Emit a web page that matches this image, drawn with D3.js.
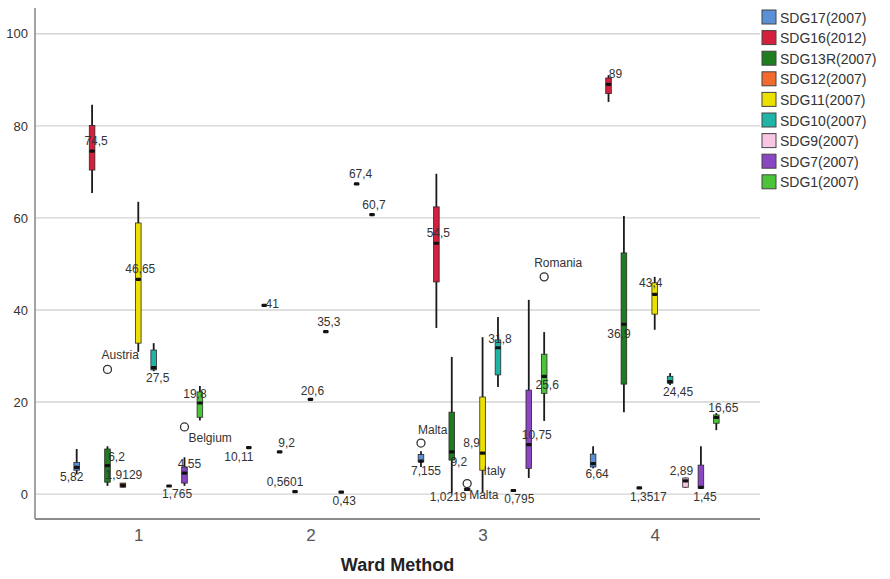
<!DOCTYPE html>
<html><head><meta charset="utf-8">
<script src="https://cdn.jsdelivr.net/npm/d3@7/dist/d3.min.js"></script>
<style>
html,body{margin:0;padding:0;background:#fff;}
svg{display:block;font-family:"Liberation Sans",Arial,sans-serif;}
</style></head>
<body>
<svg id="chart" width="890" height="579"></svg>
<script>
// ---------------- DATA ----------------
const clusters = [1, 2, 3, 4];
const seriesNames = ["SDG17(2007)","SDG16(2012)","SDG13R(2007)","SDG12(2007)","SDG11(2007)","SDG10(2007)","SDG9(2007)","SDG7(2007)","SDG1(2007)"];
const yTicks = [0, 20, 40, 60, 80, 100];
const xTitle = "Ward Method";

// per series, per cluster: [whiskerLow, Q1, median, Q3, whiskerHigh] (single value = one-member cluster)
const sdg17  = [[4.3,5.2,5.82,6.9,9.8],   [10.11],  [5.9,7.0,7.155,8.6,9.3],   [5.6,5.9,6.64,8.7,10.4]];
const sdg16  = [[65.4,70.4,74.5,80.1,84.6],[41],    [36.1,46.1,54.5,62.4,69.6],[85.2,87.0,89,90.4,91.0]];
const sdg13r = [[1.8,2.6,6.2,9.8,10.4],   [9.2],    [0.2,7.4,9.2,17.8,29.8],   [17.8,23.9,36.9,52.4,60.4]];
const sdg12  = [[1.5,1.5,1.9129,2.4,2.4], [0.5601], [0.8,0.8,1.0219,1.3,1.3],  [1.3517]];
const sdg11  = [[30.9,32.8,46.65,58.9,63.5],[20.6],  [0.4,5.2,8.9,21.1,34.1],   [35.7,39.1,43.4,45.9,47.2]];
const sdg10  = [[26.7,27.0,27.5,31.3,32.8],[35.3],   [23.3,25.9,31.8,33.5,38.5],[23.7,24.1,24.45,25.6,26.3]];
const sdg9   = [[1.765],                   [0.43],   [0.795],                   [1.4,1.5,2.89,3.5,3.6]];
const sdg7   = [[1.8,2.4,4.55,5.9,8.0],    [67.4],   [3.5,5.6,10.75,22.6,42.2], [1.1,1.3,1.45,6.3,10.4]];
const sdg1   = [[16.0,16.7,19.8,22.2,23.5],[60.7],   [15.9,21.9,25.6,30.4,35.2],[13.9,15.4,16.65,17.2,17.6]];
const seriesStats = [sdg17, sdg16, sdg13r, sdg12, sdg11, sdg10, sdg9, sdg7, sdg1];

const outliers = [
  {cluster:1, series:"SDG13R(2007)", value:27.1, name:"Austria"},
  {cluster:1, series:"SDG7(2007)",   value:14.6, name:"Belgium"},
  {cluster:3, series:"SDG17(2007)",  value:11.1, name:"Malta"},
  {cluster:3, series:"SDG12(2007)",  value:2.3,  name:"Malta"},
  {cluster:3, series:"SDG1(2007)",   value:47.2, name:"Romania"}
];
const textOnlyLabels = [
  {cluster:3, series:"SDG11(2007)", value:5.0, name:"Italy"}
];

// ---------------- STYLE / LAYOUT ----------------
const palette = ["#5b8fd6","#d4203c","#1f7d1f","#f26a2c","#ece000","#20b4a7","#f6c6e2","#8a47c2","#4cc43a"];
// median-label nudges [dx, dy] per series per cluster
const medianNudge = [
  [[-5,10],[-10,9],[5,10],[4,10]],
  [[4,-10],[8,-1],[2,-10],[7,-10]],
  [[9,-9],[7,-9],[7,10],[-5,10]],
  [[1,-10],[-10,-10],[-19,8],[9,9]],
  [[2,-10],[2,-8],[-11,-10],[-4,-11]],
  [[4,10],[3,-10],[2,-9],[8,10]],
  [[8,8],[3,9],[6,9],[-4,-10]],
  [[5,-9],[4,-10],[8,-10],[4,10]],
  [[-5,-9],[2,-10],[3,9],[7,-9]]
];
const outlierNudge = [[-6,-14],[4,11],[-3,-13],[2,11],[-10,-14]];
const textOnlyNudge = [[1,0]];

const plot = {left:35, right:760, top:8, bottom:519};
const svg = d3.select("#chart");

const y = d3.scaleLinear().domain([-5.4, 105.6]).range([plot.bottom, plot.top]);
const xc = d3.scalePoint().domain(clusters).range([plot.left, 758]).padding(0.6);
const xs = d3.scalePoint().domain(seriesNames).range([-61.6, 61.6]);
const color = d3.scaleOrdinal().domain(seriesNames).range(palette);
const fmt = v => String(v).replace(".", ",");
const X = (c, s) => xc(c) + xs(s);

// gridlines
svg.append("g").selectAll("line").data(yTicks).join("line")
  .attr("x1", plot.left).attr("x2", plot.right)
  .attr("y1", d => y(d)).attr("y2", d => y(d))
  .attr("stroke", "#d3d3d3").attr("stroke-width", 1.4);

// y axis
const yAxis = svg.append("g").attr("transform", `translate(${plot.left},0)`)
  .call(d3.axisLeft(y).tickValues(yTicks).tickSize(0).tickPadding(7));
yAxis.select(".domain").remove();
yAxis.selectAll("text").attr("font-size", 13).attr("fill", "#333")
  .attr("font-family", "Liberation Sans, Arial, sans-serif");
svg.append("line").attr("x1", plot.left).attr("x2", plot.left)
  .attr("y1", plot.top).attr("y2", plot.bottom).attr("stroke", "#8c8c8c").attr("stroke-width", 1.6);

// x axis
const xAxis = svg.append("g").attr("transform", `translate(0,${plot.bottom})`)
  .call(d3.axisBottom(xc).tickSize(0).tickPadding(10));
xAxis.select(".domain").remove();
xAxis.selectAll("text").attr("font-size", 17).attr("fill", "#555")
  .attr("font-family", "Liberation Sans, Arial, sans-serif");
svg.append("line").attr("x1", plot.left).attr("x2", plot.right)
  .attr("y1", plot.bottom).attr("y2", plot.bottom).attr("stroke", "#8c8c8c").attr("stroke-width", 1.8);
svg.append("text").attr("x", (plot.left + plot.right) / 2).attr("y", 571)
  .attr("text-anchor", "middle").attr("font-size", 18).attr("font-weight", "bold")
  .attr("fill", "#222").text(xTitle);

// box records
const boxes = [];
seriesNames.forEach((s, si) => {
  clusters.forEach((c, ci) => {
    const a = seriesStats[si][ci];
    const st = a.length === 1 ? [a[0], a[0], a[0], a[0], a[0]] : a;
    boxes.push({s, si, c, ci, lo: st[0], q1: st[1], med: st[2], q3: st[3], hi: st[4]});
  });
});

const bw = 5.6;
const marks = svg.append("g");

// outliers (drawn under boxes)
marks.selectAll("circle.out").data(outliers).join("circle").attr("class", "out")
  .attr("cx", d => X(d.cluster, d.series)).attr("cy", d => y(d.value)).attr("r", 4)
  .attr("fill", "#fff").attr("stroke", "#333").attr("stroke-width", 1.3);

// whiskers
marks.selectAll("line.wh").data(boxes.filter(d => d.hi > d.lo)).join("line").attr("class", "wh")
  .attr("x1", d => X(d.c, d.s)).attr("x2", d => X(d.c, d.s))
  .attr("y1", d => y(d.lo)).attr("y2", d => y(d.hi))
  .attr("stroke", "#1a1a1a").attr("stroke-width", 1.8);

// boxes
marks.selectAll("rect.bx").data(boxes.filter(d => d.q3 > d.q1)).join("rect").attr("class", "bx")
  .attr("x", d => X(d.c, d.s) - bw / 2).attr("width", bw)
  .attr("y", d => y(d.q3)).attr("height", d => y(d.q1) - y(d.q3))
  .attr("fill", d => color(d.s)).attr("stroke", "#2a2a2a").attr("stroke-width", 0.8);

// medians
marks.selectAll("rect.md").data(boxes).join("rect").attr("class", "md")
  .attr("x", d => X(d.c, d.s) - bw / 2).attr("width", bw)
  .attr("y", d => y(d.med) - 1.6).attr("height", 3.2).attr("rx", 1.2)
  .attr("fill", "#111");

// median labels
svg.append("g").selectAll("text").data(boxes).join("text")
  .attr("x", d => X(d.c, d.s) + medianNudge[d.si][d.ci][0])
  .attr("y", d => y(d.med) + medianNudge[d.si][d.ci][1])
  .attr("text-anchor", "middle").attr("dominant-baseline", "central")
  .attr("font-size", 12).attr("fill", "#333").text(d => fmt(d.med));

// outlier labels
svg.append("g").selectAll("text").data(outliers).join("text")
  .attr("x", (d, i) => X(d.cluster, d.series) + outlierNudge[i][0])
  .attr("y", (d, i) => y(d.value) + outlierNudge[i][1])
  .attr("dominant-baseline", "central")
  .attr("font-size", 12).attr("fill", "#333").text(d => d.name);
svg.append("g").selectAll("text").data(textOnlyLabels).join("text")
  .attr("x", (d, i) => X(d.cluster, d.series) + textOnlyNudge[i][0])
  .attr("y", (d, i) => y(d.value) + textOnlyNudge[i][1])
  .attr("dominant-baseline", "central")
  .attr("font-size", 12).attr("fill", "#333").text(d => d.name);

// legend
const lg = svg.append("g").attr("transform", "translate(762,10)");
const li = lg.selectAll("g").data(seriesNames).join("g")
  .attr("transform", (d, i) => `translate(0,${i * 20.6})`);
li.append("rect").attr("width", 14).attr("height", 14)
  .attr("fill", d => color(d)).attr("stroke", "#444").attr("stroke-width", 1);
li.append("text").attr("x", 18).attr("y", 7.5).attr("dominant-baseline", "central")
  .attr("font-size", 14).attr("fill", "#333").text(d => d);
</script>
</body></html>
